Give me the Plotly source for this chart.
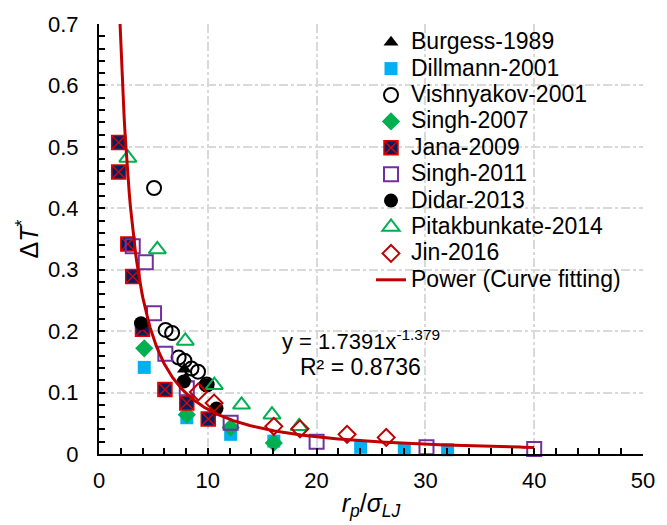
import numpy as np
import plotly.graph_objects as go

# ---- data ----
burgess_x = [7.85, 7.95]
burgess_y = [0.138, 0.122]

dillmann_x = [4.16, 8.07, 12.1, 16.07, 24.05, 28.06, 32.04]
dillmann_y = [0.141, 0.059, 0.032, 0.021, 0.011, 0.008, 0.007]

vishnyakov_x = [5.06, 6.12, 6.72, 7.32, 7.85, 8.5, 9.1, 9.9]
vishnyakov_y = [0.433, 0.202, 0.197, 0.157, 0.152, 0.139, 0.134, 0.113]

singh07_x = [4.16, 8.07, 12.1, 16.07]
singh07_y = [0.172, 0.064, 0.043, 0.018]

jana_x = [1.81, 1.81, 2.65, 3.1, 4.0, 6.06, 8.07, 10.04]
jana_y = [0.507, 0.459, 0.342, 0.289, 0.203, 0.105, 0.083, 0.057]

singh11_x = [3.1, 4.3, 5.06, 6.1, 8.07, 12.1, 20.0, 30.1, 40.0]
singh11_y = [0.338, 0.312, 0.229, 0.163, 0.107, 0.051, 0.020, 0.011, 0.008]

didar_x = [3.86, 7.8, 9.9, 10.8]
didar_y = [0.213, 0.118, 0.112, 0.074]

pitak_x = [2.65, 5.36, 7.93, 10.6, 13.1, 15.9, 18.4]
pitak_y = [0.482, 0.333, 0.184, 0.112, 0.080, 0.064, 0.045]

jin_x = [9.13, 10.58, 16.07, 18.47, 22.8, 26.4]
jin_y = [0.101, 0.083, 0.045, 0.041, 0.032, 0.027]

fit_a = 1.7391
fit_b = -1.379

x_ticks = [0, 10, 20, 30, 40, 50]
y_ticks = [0, 0.1, 0.2, 0.3, 0.4, 0.5, 0.6, 0.7]

FONT = "Liberation Sans, Arial, sans-serif"
LEG_SIZE = 23

fig = go.Figure()

def lname(s):
    return f'<span style="font-size:{LEG_SIZE}px">{s}</span>'

def add(x, y, name, symbol, color, size, line_color=None, line_width=0):
    fig.add_trace(go.Scatter(
        x=x, y=y, mode="markers", name=lname(name), cliponaxis=False,
        marker=dict(symbol=symbol, color=color, size=size,
                    line=dict(color=line_color if line_color else color, width=line_width)),
    ))

add(burgess_x, burgess_y, "Burgess-1989", "triangle-up", "black", 13)
add(dillmann_x, dillmann_y, "Dillmann-2001", "square", "#00B0F0", 13)
add(vishnyakov_x, vishnyakov_y, "Vishnyakov-2001", "circle-open", "black", 14, "black", 2)
add(singh07_x, singh07_y, "Singh-2007", "diamond", "#00B050", 14)
add(jana_x, jana_y, "Jana-2009", "square-x", "#002060", 14, "#E00000", 1.5)
add(singh11_x, singh11_y, "Singh-2011", "square-open", "#7030A0", 14, "#7030A0", 2)
add(didar_x, didar_y, "Didar-2013", "circle", "black", 14)
add(pitak_x, pitak_y, "Pitakbunkate-2014", "triangle-up-open", "#00B050", 15, "#00B050", 2)
add(jin_x, jin_y, "Jin-2016", "diamond-open", "#C00000", 13, "#C00000", 2)

xf = np.linspace((0.7 / fit_a) ** (1 / fit_b), 40, 400)
yf = fit_a * xf ** fit_b
fig.add_trace(go.Scatter(x=xf, y=yf, mode="lines", name=lname("Power (Curve fitting)"),
                         line=dict(color="#C00000", width=3)))

fig.add_annotation(x=24.05, y=0.186, xref="x", yref="y",
                   text="y = 1.7391x<sup>-1.379</sup>", showarrow=False,
                   font=dict(family=FONT, size=22, color="black"))
fig.add_annotation(x=24.0, y=0.141, xref="x", yref="y",
                   text="R² = 0.8736", showarrow=False,
                   font=dict(family=FONT, size=23, color="black"))

grid = dict(showgrid=True, gridcolor="#D9D9D9", gridwidth=1.5, griddash="dashdot")

fig.update_xaxes(range=[0, 50], tickvals=x_ticks, ticktext=[str(v) for v in x_ticks],
                 showline=True, linecolor="black", linewidth=2, zeroline=False,
                 ticks="inside", ticklen=6, tickcolor="black", tickwidth=1.5,
                 ticklabelstandoff=6,
                 minor=dict(dtick=2, ticks="inside", ticklen=6, tickcolor="black", tickwidth=1.5, showgrid=False),
                 tickfont=dict(family=FONT, size=22, color="black"),
                 title=dict(text="<i>r<sub>p</sub></i>/<i>σ<sub>LJ</sub></i>",
                            font=dict(family=FONT, size=25, color="black"), standoff=2),
                 **grid)
fig.update_yaxes(range=[0, 0.7], tickvals=y_ticks, ticktext=["0", "0.1", "0.2", "0.3", "0.4", "0.5", "0.6", "0.7"],
                 showline=True, linecolor="black", linewidth=2, zeroline=False,
                 ticks="inside", ticklen=6, tickcolor="black", tickwidth=1.5,
                 ticklabelstandoff=14,
                 minor=dict(dtick=0.02, ticks="inside", ticklen=6, tickcolor="black", tickwidth=1.5, showgrid=False),
                 tickfont=dict(family=FONT, size=22, color="black"),
                 title=dict(text="Δ<i>T</i><sup>*</sup>",
                            font=dict(family=FONT, size=25, color="black"), standoff=2),
                 **grid)

fig.update_layout(
    width=667, height=525,
    margin=dict(l=99, r=13, t=17, b=70),
    paper_bgcolor="white", plot_bgcolor="white",
    font=dict(family=FONT, size=18, color="black"),
    showlegend=True,
    legend=dict(x=0.5, y=1.0, xanchor="left", yanchor="top",
                bgcolor="rgba(0,0,0,0)", font=dict(family=FONT, size=18, color="black"),
                tracegroupgap=0, itemsizing="trace"),
)

fig.write_html("out.html")
